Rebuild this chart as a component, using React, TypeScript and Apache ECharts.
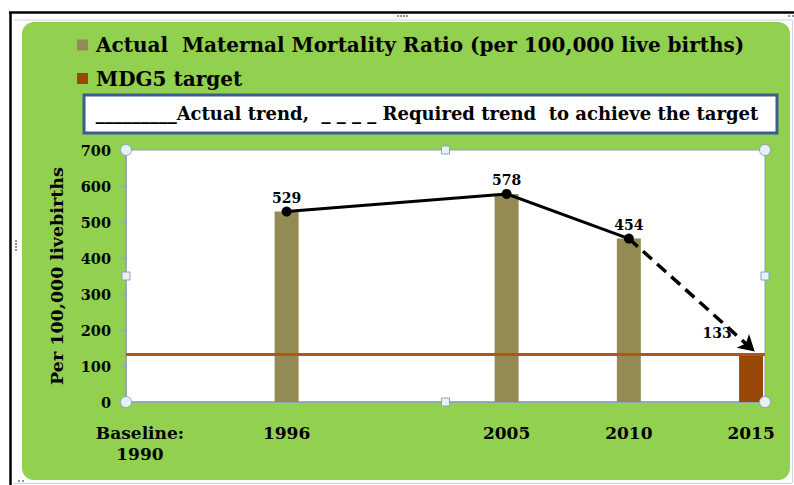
import React, { useEffect, useRef } from "react";
import * as echarts from "echarts";

// ---- data ----
const actualYears = [1996, 2005, 2010];
const actualMMR = [529, 578, 454];
const targetYear = 2015;
const targetMMR = 133;
const mdgTargetLevel = 133;
const projectionStart = [2010, 454];
const projectionEnd = [2015.15, 140];
const xLabelYears = [1990, 1996, 2005, 2010, 2015];
const yMin = 0;
const yMax = 700;
const yInterval = 100;

const SERIES_ACTUAL = "Actual  Maternal Mortality Ratio (per 100,000 live births)";
const SERIES_TARGET = "MDG5 target";
const BOX_TEXT = "_________Actual trend,  _ _ _ _ Required trend  to achieve the target";
const Y_TITLE = "Per 100,000 livebirths";

// ---- layout / style ----
const W = 794;
const H = 485;
const GL = 126;
const GT = 150;
const GR = 765;
const GB = 402;
const FONT = "DejaVu Serif";
const AXIS_COLOR = "#8EA1BA";
const HANDLE_FILL = "#E8F1F8";

export default function App() {
  const ref = useRef<HTMLDivElement>(null);
  useEffect(() => {
    if (!ref.current) return;
    const chart = echarts.init(ref.current, null, { renderer: "svg" });
    const midX = (GL + GR) / 2;
    const midY = (GT + GB) / 2;
    const handles: any[] = [];
    [[GL, GT], [GR, GT], [GL, GB], [GR, GB]].forEach(([cx, cy]) =>
      handles.push({
        type: "circle",
        shape: { cx, cy, r: 5.5 },
        style: { fill: HANDLE_FILL, stroke: AXIS_COLOR, lineWidth: 1 },
        z: 100,
      })
    );
    [[midX, GT], [midX, GB], [GL, midY], [GR, midY]].forEach(([cx, cy]) =>
      handles.push({
        type: "rect",
        shape: { x: cx - 4, y: cy - 4, width: 8, height: 8 },
        style: { fill: HANDLE_FILL, stroke: AXIS_COLOR, lineWidth: 1 },
        z: 100,
      })
    );
    const grips: any[] = [];
    for (let i = 0; i < 4; i++) {
      grips.push({ type: "rect", shape: { x: 397 + i * 3, y: 15, width: 2, height: 2 }, style: { fill: "#8A94A0" }, z: 5 });
      grips.push({ type: "rect", shape: { x: 15, y: 240 + i * 3, width: 2, height: 2 }, style: { fill: "#8A94A0" }, z: 5 });
    }
    grips.push({ type: "rect", shape: { x: 18, y: 480, width: 2, height: 2 }, style: { fill: "#8A94A0" }, z: 5 });
    grips.push({ type: "rect", shape: { x: 22, y: 480, width: 2, height: 2 }, style: { fill: "#8A94A0" }, z: 5 });
    grips.push({ type: "rect", shape: { x: 788, y: 15, width: 2, height: 2 }, style: { fill: "#8A94A0" }, z: 5 });
    grips.push({ type: "rect", shape: { x: 792, y: 15, width: 2, height: 2 }, style: { fill: "#8A94A0" }, z: 5 });

    const option: any = {
      animation: false,
      backgroundColor: "#ffffff",
      graphic: [
        { type: "rect", shape: { x: 0, y: 0, width: W, height: H }, style: { fill: "#ffffff" }, z: -20 },
        { type: "line", shape: { x1: 9, y1: 12.5, x2: W, y2: 12.5 }, style: { stroke: "#000", lineWidth: 2.5 }, z: -5 },
        { type: "line", shape: { x1: 10.5, y1: 12, x2: 10.5, y2: H }, style: { stroke: "#000", lineWidth: 2.5 }, z: -5 },
        { type: "line", shape: { x1: 14, y1: 20, x2: 792, y2: 20 }, style: { stroke: "#C9D6E0", lineWidth: 1 }, z: -5 },
        { type: "line", shape: { x1: 792.5, y1: 20, x2: 792.5, y2: 483 }, style: { stroke: "#C9D6E0", lineWidth: 1 }, z: -5 },
        { type: "line", shape: { x1: 14, y1: 483.5, x2: 792, y2: 483.5 }, style: { stroke: "#C9D6E0", lineWidth: 1 }, z: -5 },
        {
          type: "rect",
          shape: { x: 22, y: 22, width: 768, height: 458, r: 12 },
          style: { fill: "#92D050" },
          z: -4,
        },
        {
          type: "rect",
          shape: { x: 84, y: 95, width: 693, height: 38 },
          style: { fill: "#ffffff", stroke: "#3B5C8C", lineWidth: 3 },
          z: 10,
        },
        {
          type: "text",
          x: 427,
          y: 113,
          style: {
            text: BOX_TEXT,
            fill: "#000",
            font: `bold 18px "${FONT}"`,
            align: "center",
            verticalAlign: "middle",
          },
          z: 11,
        },
        ...grips,
        ...handles,
      ],
      legend: {
        data: [SERIES_ACTUAL, SERIES_TARGET],
        orient: "vertical",
        left: 72,
        top: 29,
        itemWidth: 11,
        itemHeight: 11,
        itemGap: 11.5,
        icon: "rect",
        selectedMode: false,
        textStyle: {
          fontFamily: FONT,
          fontWeight: "bold",
          fontSize: 20,
          color: "#000",
          lineHeight: 22,
          padding: [0, 0, 0, 3],
        },
      },
      grid: {
        left: GL,
        top: GT,
        right: W - GR,
        bottom: H - GB,
        show: true,
        backgroundColor: "#ffffff",
        borderColor: AXIS_COLOR,
        borderWidth: 1,
        containLabel: false,
      },
      xAxis: {
        type: "value",
        min: 1989.43,
        max: 2015.57,
        splitLine: { show: false },
        axisTick: { show: false },
        axisLine: { show: true, lineStyle: { color: AXIS_COLOR, width: 1.5 } },
        axisLabel: {
          customValues: xLabelYears,
          formatter: (v: number) => (v === 1990 ? "Baseline:\n1990" : String(v)),
          fontFamily: FONT,
          fontWeight: "bold",
          fontSize: 17,
          lineHeight: 21,
          color: "#000",
          margin: 20,
          align: "center",
        },
      },
      yAxis: {
        type: "value",
        min: yMin,
        max: yMax,
        interval: yInterval,
        name: Y_TITLE,
        nameLocation: "middle",
        nameGap: 60,
        nameTextStyle: { fontFamily: FONT, fontWeight: "bold", fontSize: 17.5, color: "#000" },
        splitLine: { show: false },
        axisLine: { show: true, lineStyle: { color: AXIS_COLOR, width: 1.5 } },
        axisTick: { show: true, length: 5, lineStyle: { color: AXIS_COLOR } },
        axisLabel: {
          fontFamily: FONT,
          fontWeight: "bold",
          fontSize: 14.5,
          color: "#000",
          margin: 15,
        },
      },
      series: [
        {
          name: SERIES_ACTUAL,
          type: "bar",
          barWidth: 24,
          barGap: "-100%",
          itemStyle: { color: "#948A54" },
          data: actualYears.map((y, i) => [y, actualMMR[i]]),
          label: {
            show: true,
            position: "top",
            distance: 7,
            fontFamily: FONT,
            fontWeight: "bold",
            fontSize: 14,
            color: "#000",
          },
          z: 2,
        },
        {
          name: SERIES_TARGET,
          type: "bar",
          barWidth: 24,
          barGap: "-100%",
          itemStyle: { color: "#984807" },
          data: [[targetYear, targetMMR]],
          label: {
            show: true,
            position: "top",
            distance: 7,
            offset: [-34, -7],
            fontFamily: FONT,
            fontWeight: "bold",
            fontSize: 14,
            color: "#000",
          },
          markLine: {
            silent: true,
            symbol: "none",
            label: { show: false },
            lineStyle: { type: "solid", color: "#B0561C", width: 3 },
            data: [{ yAxis: mdgTargetLevel }],
          },
          z: 2,
        },
        {
          name: "Actual trend",
          type: "line",
          data: actualYears.map((y, i) => [y, actualMMR[i]]),
          symbol: "circle",
          symbolSize: 10,
          itemStyle: { color: "#000" },
          lineStyle: { color: "#000", width: 3 },
          z: 5,
          markLine: {
            silent: true,
            symbol: ["none", "arrow"],
            symbolSize: [14, 16],
            label: { show: false },
            lineStyle: { type: [12, 7], color: "#000", width: 3.5 },
            data: [[{ coord: projectionStart }, { coord: projectionEnd }]],
          },
        },
      ],
    };
    chart.setOption(option);
    return () => chart.dispose();
  }, []);
  return (
    <div
      ref={ref}
      style={{ position: "absolute", left: 0, top: 0, width: W, height: H }}
    />
  );
}
